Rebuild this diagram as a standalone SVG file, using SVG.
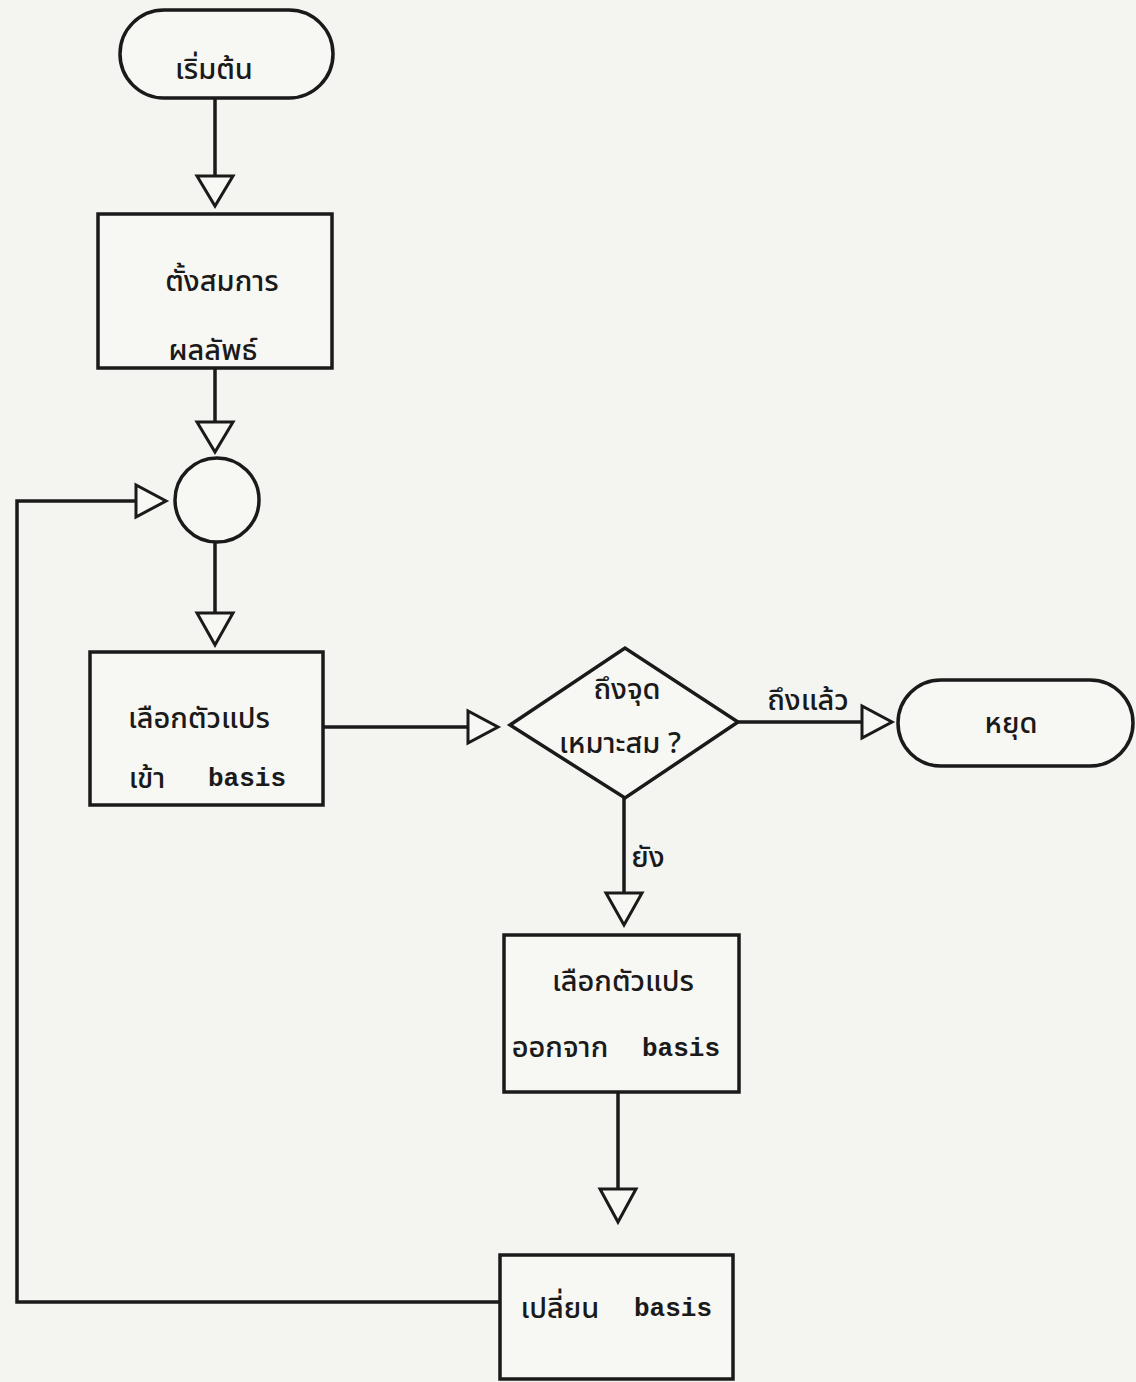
<svg xmlns="http://www.w3.org/2000/svg" width="1136" height="1382" viewBox="0 0 1136 1382">
<style>
.s{fill:none;stroke:#1a1a1a;stroke-width:3.5}
.n{fill:#f7f7f4;stroke:#1a1a1a;stroke-width:3.5}
.h{fill:#f7f7f4;stroke:#1a1a1a;stroke-width:3}
.t{font-family:"Noto Sans Thai","Loma","Garuda","DejaVu Sans",sans-serif;font-size:29px;font-weight:500;fill:#1a1a1a;text-anchor:middle}
.m{font-family:"Liberation Mono","Courier New",monospace;font-size:26px;font-weight:bold;fill:#1a1a1a}
</style>
<rect width="1136" height="1382" fill="#f4f4f1"/>
<g id="connectors">
<line class="s" x1="215" y1="98" x2="215" y2="176"/>
<polygon class="h" points="197,176 233,176 215,206"/>
<line class="s" x1="215" y1="368" x2="215" y2="422"/>
<polygon class="h" points="197,422 233,422 215,452"/>
<line class="s" x1="215" y1="542" x2="215" y2="613"/>
<polygon class="h" points="197,613 233,613 215,645"/>
<line class="s" x1="323" y1="727" x2="468" y2="727"/>
<polygon class="h" points="468,711 468,743 498,727"/>
<line class="s" x1="738" y1="722" x2="862" y2="722"/>
<polygon class="h" points="862,706 862,738 892,722"/>
<line class="s" x1="624" y1="798" x2="624" y2="893"/>
<polygon class="h" points="606,893 642,893 624,925"/>
<line class="s" x1="618" y1="1092" x2="618" y2="1189"/>
<polygon class="h" points="600,1189 636,1189 618,1222"/>
<polyline class="s" points="500,1302 17,1302 17,501 136,501"/>
<polygon class="h" points="136,485 136,517 166,501"/>
<text class="t" x="808" y="710">ถึงแล้ว</text>
<text class="t" x="648" y="867">ยัง</text>
</g>
<g id="start">
<rect class="n" x="120" y="10" width="213" height="88" rx="44"/>
<text class="t" x="214" y="79">เริ่มต้น</text>
</g>
<g id="setup">
<rect class="n" x="98" y="214" width="234" height="154"/>
<text class="t" x="222" y="291">ตั้งสมการ</text>
<text class="t" x="213" y="360">ผลลัพธ์</text>
</g>
<g id="junction">
<circle class="n" cx="217" cy="500" r="42"/>
</g>
<g id="enter">
<rect class="n" x="90" y="652" width="233" height="153"/>
<text class="t" x="199" y="728">เลือกตัวแปร</text>
<text class="t" x="147" y="788">เข้า</text>
<text class="m" x="208" y="786">basis</text>
</g>
<g id="decision">
<polygon class="n" points="510,725 625,648 738,722 625,798"/>
<text class="t" x="627" y="699">ถึงจุด</text>
<text class="t" x="620" y="753">เหมาะสม ?</text>
</g>
<g id="stop">
<rect class="n" x="898" y="680" width="235" height="86" rx="43"/>
<text class="t" x="1011" y="733">หยุด</text>
</g>
<g id="leave">
<rect class="n" x="504" y="935" width="235" height="157"/>
<text class="t" x="623" y="991">เลือกตัวแปร</text>
<text class="t" x="560" y="1057">ออกจาก</text>
<text class="m" x="642" y="1056">basis</text>
</g>
<g id="change">
<rect class="n" x="500" y="1255" width="233" height="124"/>
<text class="t" x="560" y="1318">เปลี่ยน</text>
<text class="m" x="634" y="1316">basis</text>
</g>
</svg>
